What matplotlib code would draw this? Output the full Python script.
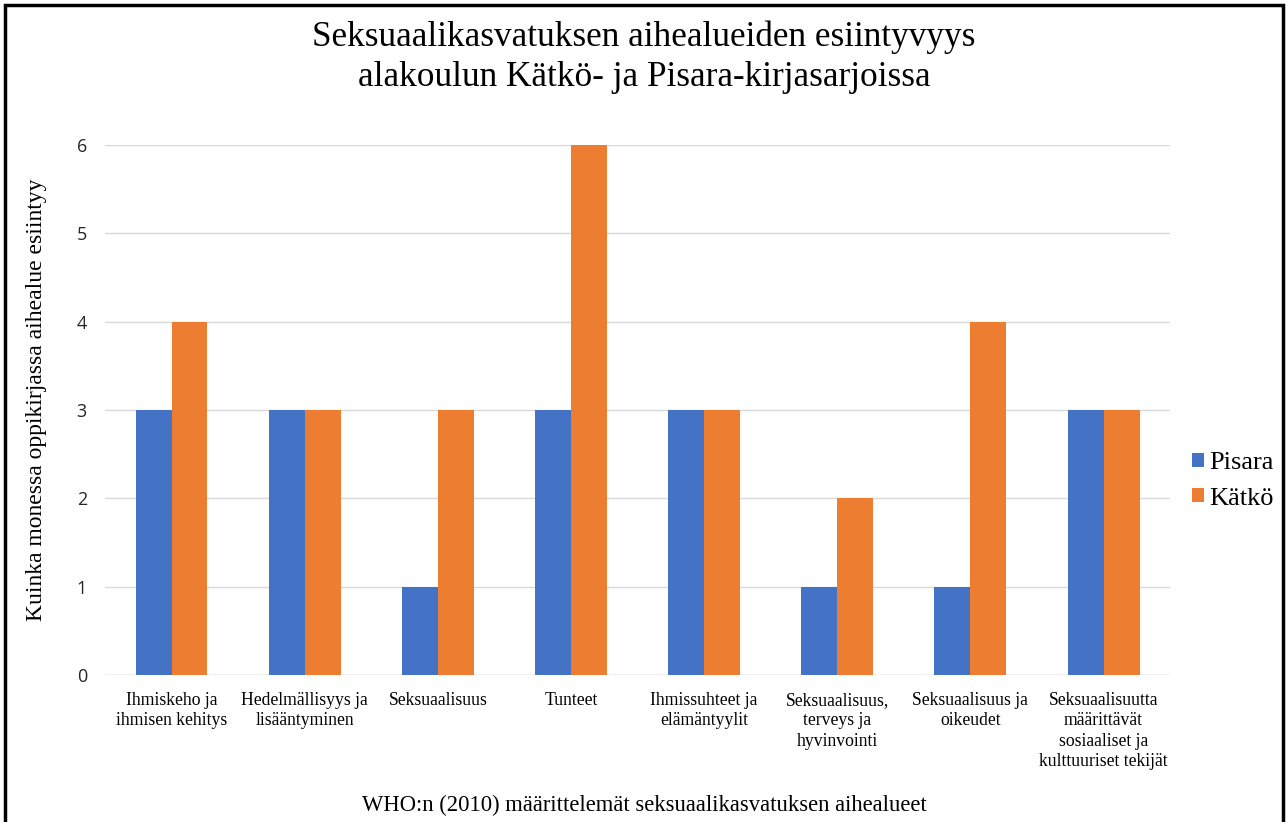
import matplotlib.pyplot as plt
import matplotlib.patches as mpatches
import numpy as np

categories = [
    "Ihmiskeho ja\nihmisen kehitys",
    "Hedelmällisyys ja\nlisääntyminen",
    "Seksuaalisuus",
    "Tunteet",
    "Ihmissuhteet ja\nelämäntyylit",
    "Seksuaalisuus,\nterveys ja\nhyvinvointi",
    "Seksuaalisuus ja\noikeudet",
    "Seksuaalisuutta\nmäärittävät\nsosiaaliset ja\nkulttuuriset tekijät",
]
pisara = [3, 3, 1, 3, 3, 1, 1, 3]
katko = [4, 3, 3, 6, 3, 2, 4, 3]
yticks = [0, 1, 2, 3, 4, 5, 6]

serif = "Liberation Serif"
sans = "Open Sans"

fig = plt.figure(figsize=(12.88, 8.22), dpi=100)
ax = fig.add_axes([0.0815, 0.1788, 0.827, 0.645])

x = np.arange(len(categories))
w = 0.27
ax.bar(x - w / 2, pisara, w, color="#4472C4", label="Pisara", zorder=3)
ax.bar(x + w / 2, katko, w, color="#ED7D31", label="Kätkö", zorder=3)

ax.set_xlim(-0.5, len(categories) - 0.5)
ax.set_ylim(0, 6)
ax.set_yticks(yticks)
ax.yaxis.grid(True, color="#D9D9D9", linewidth=1, zorder=0)
for s in ax.spines.values():
    s.set_visible(False)
ax.axhline(0, color="#D9D9D9", linewidth=1, zorder=2)
ax.tick_params(axis="both", length=0)
ax.tick_params(axis="y", pad=13)
for lab in ax.get_yticklabels():
    lab.set_fontfamily(sans)
    lab.set_fontsize(13)
    lab.set_color("#262626")

ax.set_xticks(x)
ax.set_xticklabels(categories, fontfamily=serif, fontsize=12.7, linespacing=1.27, va="top")
ax.tick_params(axis="x", pad=12)

ax.set_ylabel("Kuinka monessa oppikirjassa aihealue esiintyy", fontfamily=serif, fontsize=17)
ax.yaxis.set_label_coords(-0.054, 0.52)
fig.text(0.5, 1 - 805 / 822, "WHO:n (2010) määrittelemät seksuaalikasvatuksen aihealueet",
         ha="center", va="center", fontfamily=serif, fontsize=16.3)

fig.text(0.5, 1 - 57 / 822, "Seksuaalikasvatuksen aihealueiden esiintyvyys\nalakoulun Kätkö- ja Pisara-kirjasarjoissa",
         ha="center", va="center", fontfamily=serif, fontsize=25.4, linespacing=1.29)

leg = fig.legend(loc="center left", bbox_to_anchor=(1192 / 1288, 1 - 481 / 822), frameon=False,
                 prop={"family": serif, "size": 19}, handlelength=0.45, handleheight=0.45,
                 handletextpad=0.2, labelspacing=0.5, borderpad=0, borderaxespad=0)

frame = mpatches.Rectangle((5 / 1288, -0.05), 1 - 10 / 1288, 1.05 - 5 / 822, transform=fig.transFigure,
                           fill=False, edgecolor="black", linewidth=2.5)
fig.patches.append(frame)

fig.savefig("out.png", dpi=100)
